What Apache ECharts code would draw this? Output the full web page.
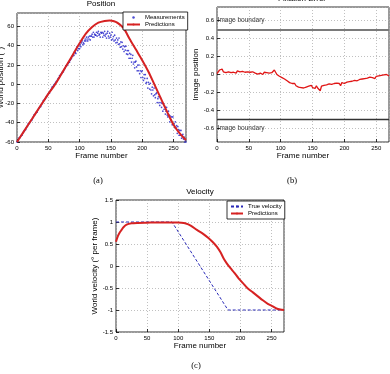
<!DOCTYPE html>
<html><head><meta charset="utf-8">
<script src="https://cdn.jsdelivr.net/npm/echarts@6/dist/echarts.min.js"></script>
<style>html,body{margin:0;padding:0;background:#fff}#c{width:390px;height:374px}</style>
</head><body><div id="c"></div>
<script>
// ---------- DATA ----------
// (a) Position
const measValues = [
-60,-59,-58,-56,-56,-55,-54,-53,-53,-51,-50,-49,-48,-47,-47,-45,-44,-43,-41,-41,
-40,-39,-38,-37,-37,-35,-34,-32,-32,-31,-30,-29,-29,-27,-26,-25,-24,-23,-23,-21,
-20,-19,-17,-17,-16,-15,-14,-13,-12,-11,-10,-9,-9,-7,-6,-5,-3,-3,-2,-1,
0,1,2,3,3,5,6,7,9,9,10,11,12,13,13,15,16,17,19,19,
20,21,22,23,23,25,26,27,29,29,
31,30,34,33,32,36,39,35,37,40,37,41,39,43,45,41,43,42,45,47,45,49,47,45,49,47,50,46,50,50,52,49,54,49,52,51,51,54,50,53,55,51,52,49,54,53,
54,49,53,51,55,50,52,48,53,55,50,48,53,49,51,46,54,47,49.5,45,51,46,43,48,43.5,46,41.5,48,42,38.5,44,39,43.5,36.5,40,34,39,35.5,39.5,31.5,35,31,35,27,32,
27,31,23,27,30,21,23,17,23,24,
18,14,20,14,20,11,14,7,13,14,
7,4,10,6,10,1,2,6,-4,2,
0,-5,1,-6,-10,-3,-6,-12,-4,-11,
-14,-10,-9,-19,-15,-13,-19,-22,-14,-19,
-24,-20,-28,-20,-26,-23,-31,-28,-24,-32,
-34,-28,-32,-39,-33,-37,-34,-42,-34,-42,
-41,-45,-39,-45,-43,-51,-44,-47,-53,-48,
-53,-48,-56,-53,-52,-57,-55,-60,-58,-60
];
const posPredFrames = [0,10,20,30,40,50,60,70,80,90,100,110,120,130,140,148,155,160,170,180,190,200,210,220,230,240,250,260,270];
const posPredValues = [-60,-50,-40,-30,-20,-10,-1,9.5,20.5,31.5,42.5,52.5,59.5,64,65.8,66.2,65.5,64,58.5,47,36,25,13,-1,-15,-29,-42,-51,-58];

// (b) Fixation error (one value every 2 frames, frames 0..270)
const fixStep = 2;
const fixValues = [
0.01,0.03,0.05,0.04,0.06,0.03,0.05,0.02,0.04,0.03,
0.045,0.02,0.04,0.025,0.035,0.015,0.04,0.02,0.03,0.01,
0.035,0.02,0.025,0.005,0.03,0.015,0.025,0.01,0.03,0.02,
0.015,0.03,0.005,0.025,0.015,0.02,0.0,0.025,0.01,0.02,
0.005,0.015,0.0,0.02,0.01,0.05,0.03,0.0,0.005,-0.02,
-0.01,-0.035,-0.03,-0.05,-0.045,-0.07,-0.065,-0.09,-0.085,-0.1,
-0.11,-0.1,-0.125,-0.12,-0.14,-0.125,-0.145,-0.13,-0.15,-0.135,
-0.14,-0.16,-0.13,-0.15,-0.12,-0.145,-0.13,-0.155,-0.125,-0.15,
-0.135,-0.18,-0.13,-0.145,-0.12,-0.14,-0.115,-0.13,-0.105,-0.125,
-0.11,-0.13,-0.1,-0.12,-0.095,-0.115,-0.1,-0.125,-0.09,-0.11,
-0.1,-0.115,-0.085,-0.1,-0.08,-0.1,-0.075,-0.09,-0.065,-0.085,
-0.07,-0.08,-0.055,-0.075,-0.05,-0.065,-0.045,-0.06,-0.04,-0.055,
-0.03,-0.05,-0.035,-0.025,-0.045,-0.02,-0.04,-0.015,-0.035,-0.01,
-0.03,-0.005,-0.025,0.0,-0.02,-0.015
];
const boundaryValues = [0.5, -0.5];
const boundaryLabelY = [0.6, -0.6];
const boundaryLabelText = 'Image boundary';

// (c) Velocity
const velTrueFrames = [0,90,180,270];
const velTrueValues = [1,1,-1,-1];
const velPredFrames = [0,3,6,9,12,17,25,35,50,70,90,100,105,111,120,130,140,149,155,162,168,173,178,184,190,197,204,211,220,228,236,244,251,257,264,270];
const velPredValues = [0.55,0.68,0.76,0.82,0.88,0.94,0.97,0.98,0.985,0.99,0.99,0.99,0.985,0.97,0.92,0.82,0.73,0.63,0.55,0.44,0.31,0.17,0.06,-0.05,-0.15,-0.28,-0.39,-0.5,-0.6,-0.69,-0.78,-0.86,-0.91,-0.96,-0.99,-1.0];

// ---------- CHART ----------
const FONT = '"Liberation Sans", Arial, Helvetica, sans-serif';
const SERIF = '"Liberation Serif", "Times New Roman", serif';
const RED = '#d62222';
const BLUE = '#1f1fc8';

function grid(left, top, width, height) {
  return {left, top, width, height, show:true, borderColor:'#000', borderWidth:0.8, backgroundColor:'#fff', containLabel:false, outerBoundsMode:'none'};
}
const split = {show:true, lineStyle:{color:'#b0b0b0', type:[1,2], width:0.8}};
const tick = {show:true, inside:true, length:3, lineStyle:{color:'#000', width:0.8}};
const axLine = {show:false, onZero:false};
function xAx(gi, gap) {
  return {type:'value', gridIndex:gi, min:0, max:270, interval:50,
    name:'Frame number', nameLocation:'middle', nameGap:gap,
    nameTextStyle:{fontSize:8, color:'#000', fontFamily:FONT},
    axisLine:axLine, axisTick:tick,
    axisLabel:{fontSize:6, color:'#000', margin:3, fontFamily:FONT, showMaxLabel:false},
    splitLine:split};
}
function yAx(gi, extra, name, gap) {
  return Object.assign({type:'value', gridIndex:gi,
    name:name, nameLocation:'middle', nameGap:gap, nameRotate:90,
    nameTextStyle:{fontSize:8, color:'#000', fontFamily:FONT},
    axisLine:axLine, axisTick:tick,
    axisLabel:{fontSize:6, color:'#000', margin:3, fontFamily:FONT},
    splitLine:split}, extra);
}

const chart = echarts.init(document.getElementById('c'), null, {renderer:'canvas'});
const option = {
  animation:false,
  backgroundColor:'#fff',
  textStyle:{fontFamily:FONT},
  grid:[grid(17,13,169,129), grid(217,7,172,135), grid(116,200,168,132)],
  xAxis:[xAx(0,9), xAx(1,9), xAx(2,9)],
  yAxis:[
    yAx(0,{min:-60,max:74,interval:20,nameMoveOverlap:false,axisLabel:{fontSize:6,color:'#000',margin:3,fontFamily:FONT,showMaxLabel:false}}, 'World position (°)', 12),
    yAx(1,{min:-0.75,max:0.75,splitNumber:7,axisLabel:{fontSize:6,color:'#000',margin:3,fontFamily:FONT,showMinLabel:false,showMaxLabel:false}}, 'Image position', 15),
    yAx(2,{min:-1.5,max:1.5,interval:0.5}, 'World velocity (° per frame)', 14)
  ],
  legend:[
    {left:123, top:12, orient:'vertical', itemGap:0, itemWidth:13, itemHeight:2.5,
     padding:[2,3,2,3], backgroundColor:'#fff', borderColor:'#000', borderWidth:0.8,
     textStyle:{fontSize:6, color:'#000', fontFamily:FONT, lineHeight:7},
     data:['Measurements','Predictions']},
    {left:227, top:201, orient:'vertical', itemGap:0, itemWidth:12, itemHeight:2.5,
     padding:[2,3,2,3], backgroundColor:'#fff', borderColor:'#000', borderWidth:0.8,
     textStyle:{fontSize:6, color:'#000', fontFamily:FONT, lineHeight:7},
     data:['True velocity','Predictions']}
  ],
  series:[
    {name:'Measurements', type:'scatter', xAxisIndex:0, yAxisIndex:0, symbol:'circle', symbolSize:1.7,
     itemStyle:{color:BLUE}, z:2, data:measValues.map((v,i)=>[i,v])},
    {name:'Predictions', type:'line', xAxisIndex:0, yAxisIndex:0, symbol:'none', smooth:0.3, z:3,
     lineStyle:{color:RED, width:2}, itemStyle:{color:RED},
     data:posPredFrames.map((f,i)=>[f,posPredValues[i]])},
    {name:'Fixation', type:'line', xAxisIndex:1, yAxisIndex:1, symbol:'none', z:3,
     lineStyle:{color:'#e01515', width:1.3}, itemStyle:{color:'#e01515'},
     data:fixValues.map((v,i)=>[i*fixStep,v]),
     markLine:{silent:true, symbol:'none', label:{show:false},
       data:[{yAxis:boundaryValues[0], lineStyle:{color:'#7a7a7a', width:2, type:'solid'}},
             {yAxis:boundaryValues[1], lineStyle:{color:'#333', width:1.4, type:'solid'}}]}},
    {name:'boundaryLabels', type:'scatter', xAxisIndex:1, yAxisIndex:1, symbolSize:0, z:4,
     label:{show:true, position:'right', distance:0, formatter:boundaryLabelText, fontSize:6.5, color:'#000', fontFamily:FONT},
     data:boundaryLabelY.map(y=>[1,y])},
    {name:'True velocity', type:'line', xAxisIndex:2, yAxisIndex:2, symbol:'none', z:2,
     lineStyle:{color:'#2a2ab8', width:1, type:[3,2]}, itemStyle:{color:'#2a2ab8'},
     data:velTrueFrames.map((f,i)=>[f,velTrueValues[i]])},
    {name:'Predictions', type:'line', xAxisIndex:2, yAxisIndex:2, symbol:'none', smooth:0.3, z:3,
     lineStyle:{color:RED, width:2}, itemStyle:{color:RED},
     data:velPredFrames.map((f,i)=>[f,velPredValues[i]])}
  ],
  graphic:[
    {type:'text', x:101, y:4, style:{text:'Position', fontSize:8, fontFamily:FONT, fill:'#000', textAlign:'center', textVerticalAlign:'middle'}},
    {type:'text', x:302, y:-1, style:{text:'Fixation Error', fontSize:8, fontFamily:FONT, fill:'#000', textAlign:'center', textVerticalAlign:'middle'}},
    {type:'text', x:200, y:192, style:{text:'Velocity', fontSize:8, fontFamily:FONT, fill:'#000', textAlign:'center', textVerticalAlign:'middle'}},
    {type:'text', x:98, y:181, style:{text:'(a)', fontSize:8.5, fontFamily:SERIF, fill:'#000', textAlign:'center', textVerticalAlign:'middle'}},
    {type:'text', x:292, y:181, style:{text:'(b)', fontSize:8.5, fontFamily:SERIF, fill:'#000', textAlign:'center', textVerticalAlign:'middle'}},
    {type:'text', x:196, y:366, style:{text:'(c)', fontSize:8.5, fontFamily:SERIF, fill:'#000', textAlign:'center', textVerticalAlign:'middle'}}
  ]
};
chart.setOption(option);
</script></body></html>
